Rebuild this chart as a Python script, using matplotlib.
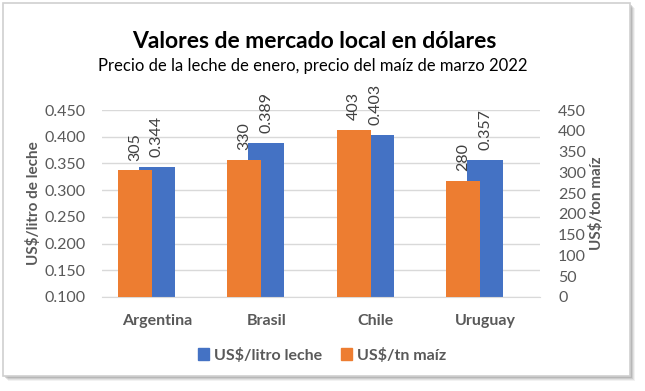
import matplotlib
matplotlib.use("Agg")
import matplotlib.pyplot as plt
import numpy as np
from matplotlib.patches import Rectangle, Patch

plt.rcParams['font.family'] = ['Lato', 'DejaVu Sans']

categories = ["Argentina", "Brasil", "Chile", "Uruguay"]
leche = [0.344, 0.389, 0.403, 0.357]
maiz = [305, 330, 403, 280]
leche_labels = ["0.344", "0.389", "0.403", "0.357"]
maiz_labels = ["305", "330", "403", "280"]
left_ticks = [0.100, 0.150, 0.200, 0.250, 0.300, 0.350, 0.400, 0.450]
right_ticks = [0, 50, 100, 150, 200, 250, 300, 350, 400, 450]

BLUE = "#4472C4"
ORANGE = "#ED7D31"
TXT = "#595959"
LBL = "#404040"

W, H = 645, 391
fig = plt.figure(figsize=(W / 100, H / 100), dpi=100)


def fx(px):
    return px / W


def fy(py):
    return 1 - py / H


# frame with shadow
for i, a in enumerate([0.10, 0.14, 0.20, 0.28]):
    off = 5 - i
    fig.patches.append(Rectangle((fx(3 + off), fy(376 + off)), fx(627), 373 / H,
                                 transform=fig.transFigure, facecolor="#808080",
                                 edgecolor="none", alpha=a, zorder=0))
fig.patches.append(Rectangle((fx(3), fy(376)), fx(627), 373 / H,
                             transform=fig.transFigure, facecolor="white",
                             edgecolor="#D0D0D0", linewidth=1.2, zorder=1))

ax = fig.add_axes([102 / W, 1 - 297 / H, (540 - 102) / W, (297 - 110) / H])
ax.set_zorder(2)
ax.patch.set_alpha(0)
ax2 = ax.twinx()
ax2.set_zorder(3)
ax2.patch.set_alpha(0)

x = np.arange(len(categories))
ax.bar(x, leche, width=0.33, color=BLUE, zorder=2)
ax2.bar(x - 0.20, maiz, width=0.31, color=ORANGE, zorder=2)

ax.set_ylim(0.100, 0.450)
ax2.set_ylim(0, 450)
ax.set_xlim(-0.5, 3.5)
ax.set_yticks(left_ticks)
ax.set_yticklabels([f"{t:.3f}" for t in left_ticks])
ax2.set_yticks(right_ticks)
ax2.set_yticklabels([str(t) for t in right_ticks])
ax.yaxis.grid(True, color="#D9D9D9", linewidth=1, zorder=0)
ax.set_axisbelow(True)

for a in (ax, ax2):
    for s in a.spines.values():
        s.set_visible(False)
    a.tick_params(length=0, labelsize=11.5, colors=TXT)
ax.spines['bottom'].set_visible(True)
ax.spines['bottom'].set_color("#D9D9D9")

ax.set_xticks(x)
ax.set_xticklabels(categories, fontsize=11.5, fontweight="bold", color=TXT)
ax.tick_params(axis='x', pad=12)
ax.tick_params(axis='y', pad=12)
ax2.tick_params(axis='y', pad=13)

ax.set_ylabel("US$/litro de leche", fontsize=11, fontweight="bold", color=TXT, labelpad=2)
ax2.set_ylabel("US$/ton maíz", fontsize=11, fontweight="bold", color=TXT, labelpad=2)

for xi, v, lab in zip(x, leche, leche_labels):
    ax.annotate(lab, (xi, v), xytext=(0, 7), textcoords="offset points",
                rotation=90, ha="center", va="bottom", fontsize=11.5, color=LBL, zorder=5)
for xi, v, lab in zip(x, maiz, maiz_labels):
    ax2.annotate(lab, (xi - 0.20, v), xytext=(0, 7), textcoords="offset points",
                 rotation=90, ha="center", va="bottom", fontsize=11.5, color=LBL, zorder=5)

fig.text(fx(314), fy(41), "Valores de mercado local en dólares", fontsize=16.5,
         fontweight="bold", color="black", ha="center", va="center", zorder=5)
fig.text(fx(313), fy(66), "Precio de la leche de enero, precio del maíz de marzo 2022",
         fontsize=12, color="black", ha="center", va="center", zorder=5)

handles = [Patch(color=BLUE, label="US$/litro leche"), Patch(color=ORANGE, label="US$/tn maíz")]
leg = fig.legend(handles=handles, loc="center", bbox_to_anchor=(fx(322), fy(355)), ncol=2,
                 frameon=False, fontsize=11.5, handlelength=0.7, handleheight=0.7,
                 handletextpad=0.3, columnspacing=1.2)
for t in leg.get_texts():
    t.set_color(TXT)
    t.set_fontweight("bold")

fig.savefig("out.png", dpi=100)
